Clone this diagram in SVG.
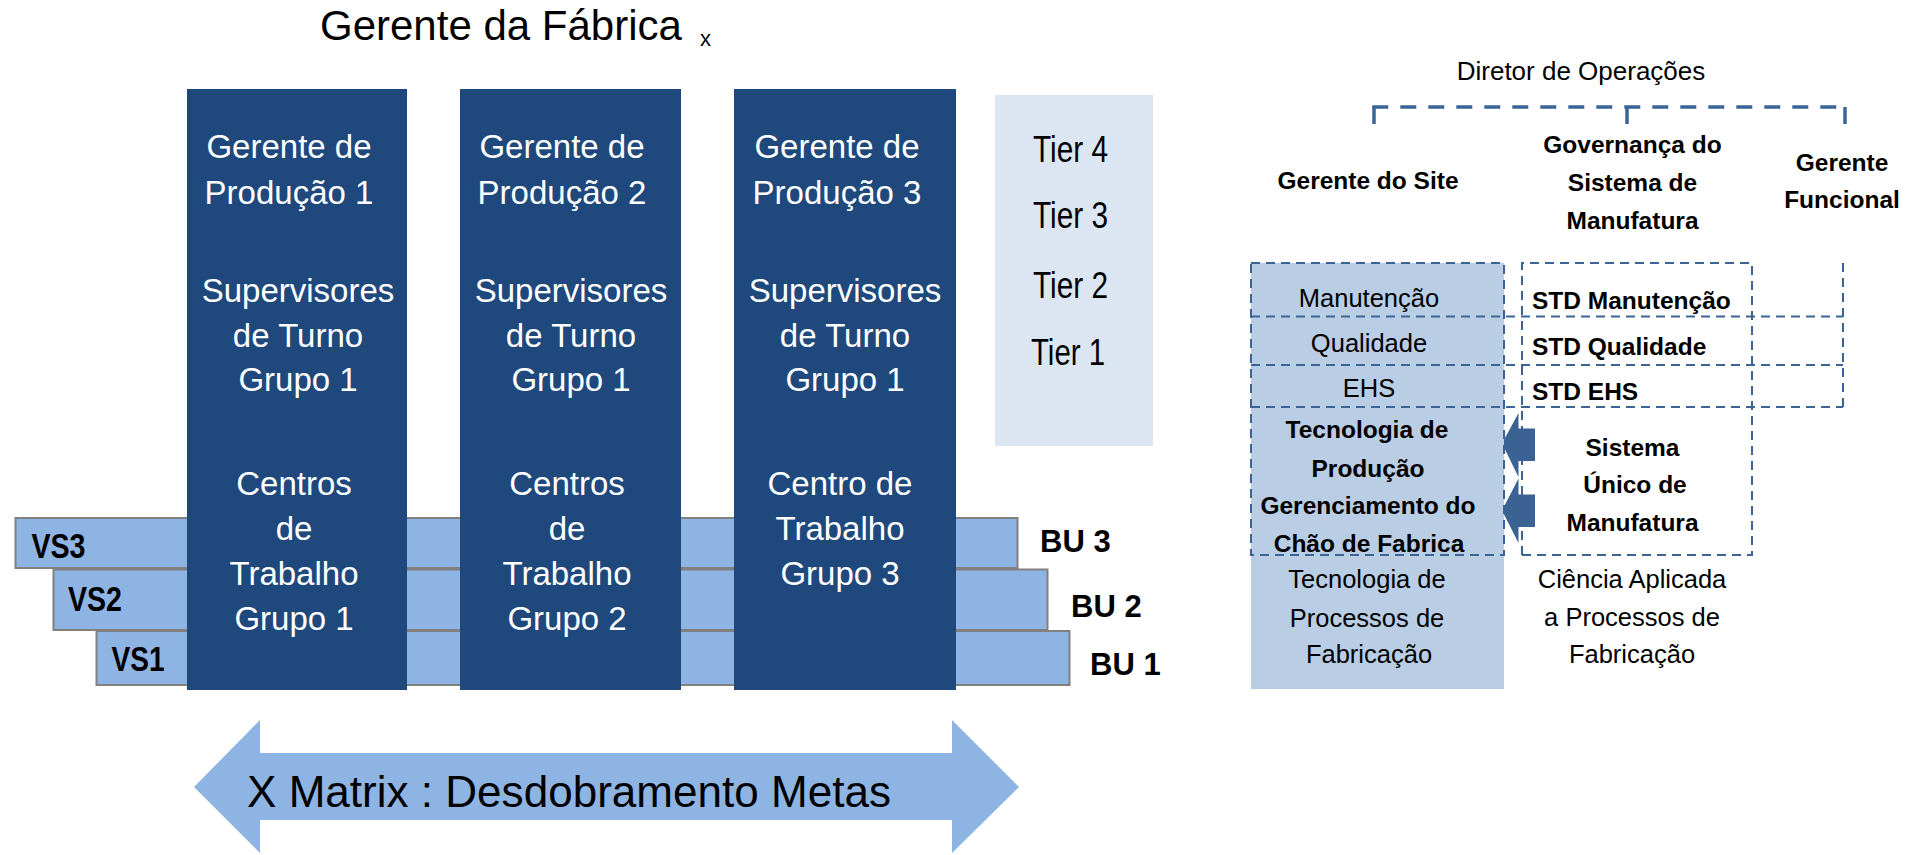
<svg xmlns="http://www.w3.org/2000/svg" width="1908" height="855" viewBox="0 0 1908 855">
<style>
text{font-family:"Liberation Sans",Arial,sans-serif;}
.col{fill:#1F497D;}
.wt{fill:#FFFFFF;font-size:33px;text-anchor:middle;}
.band{fill:#8EB4E3;stroke:#808080;stroke-width:2;}
.vs{font-size:35px;font-weight:bold;fill:#000;}
.bu{font-size:31px;font-weight:bold;fill:#000;}
.tier{font-size:36px;fill:#000;}
.hb{font-size:24.5px;font-weight:bold;fill:#000;text-anchor:middle;}
.rg{font-size:25.5px;fill:#000;text-anchor:middle;}
.std{font-size:24.5px;font-weight:bold;fill:#000;}
.dash{fill:none;stroke:#3B6496;stroke-width:2;stroke-dasharray:9 6;}
.brk{fill:none;stroke:#3B6496;stroke-width:3.5;}
.blk{fill:#3A6394;}
</style>

<g id="title">
<text x="320" y="40" font-size="42" fill="#000">Gerente da Fábrica</text>
<text x="700" y="46" font-size="22" fill="#000">x</text>
</g>

<g id="bands">
<g id="vs3"><rect class="band" x="15.5" y="518" width="1002" height="50"/><text class="vs" x="31.5" y="558" textLength="54" lengthAdjust="spacingAndGlyphs">VS3</text></g>
<g id="vs2"><rect class="band" x="53.5" y="569.5" width="994" height="60.5"/><text class="vs" x="68" y="611" textLength="54" lengthAdjust="spacingAndGlyphs">VS2</text></g>
<g id="vs1"><rect class="band" x="96.5" y="631" width="973" height="54"/><text class="vs" x="111.5" y="671" textLength="53" lengthAdjust="spacingAndGlyphs">VS1</text></g>
</g>

<g id="bu-labels">
<text class="bu" x="1040" y="552">BU 3</text>
<text class="bu" x="1071" y="617">BU 2</text>
<text class="bu" x="1090" y="675">BU 1</text>
</g>

<g id="col1">
<rect class="col" x="187" y="89" width="220" height="601"/>
<text class="wt" x="289" y="158">Gerente de</text>
<text class="wt" x="289" y="204">Produção 1</text>
<text class="wt" x="298" y="302">Supervisores</text>
<text class="wt" x="298" y="347">de Turno</text>
<text class="wt" x="298" y="391">Grupo 1</text>
<text class="wt" x="294" y="495">Centros</text>
<text class="wt" x="294" y="540">de</text>
<text class="wt" x="294" y="585">Trabalho</text>
<text class="wt" x="294" y="630">Grupo 1</text>
</g>

<g id="col2">
<rect class="col" x="460" y="89" width="221" height="601"/>
<text class="wt" x="562" y="158">Gerente de</text>
<text class="wt" x="562" y="204">Produção 2</text>
<text class="wt" x="571" y="302">Supervisores</text>
<text class="wt" x="571" y="347">de Turno</text>
<text class="wt" x="571" y="391">Grupo 1</text>
<text class="wt" x="567" y="495">Centros</text>
<text class="wt" x="567" y="540">de</text>
<text class="wt" x="567" y="585">Trabalho</text>
<text class="wt" x="567" y="630">Grupo 2</text>
</g>

<g id="col3">
<rect class="col" x="734" y="89" width="222" height="601"/>
<text class="wt" x="837" y="158">Gerente de</text>
<text class="wt" x="837" y="204">Produção 3</text>
<text class="wt" x="845" y="302">Supervisores</text>
<text class="wt" x="845" y="347">de Turno</text>
<text class="wt" x="845" y="391">Grupo 1</text>
<text class="wt" x="840" y="495">Centro de</text>
<text class="wt" x="840" y="540">Trabalho</text>
<text class="wt" x="840" y="585">Grupo 3</text>
</g>

<g id="tiers">
<rect x="995" y="95" width="158" height="351" fill="#DCE6F2"/>
<text class="tier" x="1033" y="162" textLength="75" lengthAdjust="spacingAndGlyphs">Tier 4</text>
<text class="tier" x="1033" y="228" textLength="75" lengthAdjust="spacingAndGlyphs">Tier 3</text>
<text class="tier" x="1033" y="298" textLength="75" lengthAdjust="spacingAndGlyphs">Tier 2</text>
<text class="tier" x="1031" y="365" textLength="74" lengthAdjust="spacingAndGlyphs">Tier 1</text>
</g>

<g id="xmatrix">
<path d="M194,787 L260,720 L260,753 L952,753 L952,720 L1019,787 L952,853 L952,820 L260,820 L260,853 Z" fill="#8EB4E3"/>
<text x="247" y="807" font-size="44" fill="#000" textLength="644" lengthAdjust="spacingAndGlyphs">X Matrix : Desdobramento Metas</text>
</g>

<g id="diretor">
<text x="1581" y="80" font-size="26" fill="#000" text-anchor="middle">Diretor de Operações</text>
</g>

<g id="connectors">
<path class="brk" d="M1374,124 V107"/>
<path class="brk" d="M1627,107 V124"/>
<path class="brk" d="M1845,107 V124"/>
<path class="brk" d="M1372.3,107 H1846.7" stroke-dasharray="16 12"/>
<path class="blk" d="M1502,443.5 L1518.5,413 L1518.5,428.5 L1535,428.5 L1535,461 L1518.5,461 L1518.5,477 Z"/>
<path class="blk" d="M1502,510.5 L1518.5,478.5 L1518.5,494.5 L1535,494.5 L1535,527 L1518.5,527 L1518.5,543 Z"/>
</g>

<g id="site">
<rect x="1251" y="263" width="253" height="426" fill="#B9CDE5"/>
<text class="hb" x="1368" y="189">Gerente do Site</text>
<text class="rg" x="1369" y="307">Manutenção</text>
<text class="rg" x="1369" y="352">Qualidade</text>
<text class="rg" x="1369" y="397">EHS</text>
<text class="hb" x="1367" y="438">Tecnologia de</text>
<text class="hb" x="1368" y="477">Produção</text>
<text class="hb" x="1368" y="514">Gerenciamento do</text>
<text class="hb" x="1369" y="552">Chão de Fabrica</text>
<text class="rg" x="1367" y="588">Tecnologia de</text>
<text class="rg" x="1367" y="627">Processos de</text>
<text class="rg" x="1369" y="663">Fabricação</text>
</g>

<g id="governanca">
<text class="hb" x="1632.5" y="153">Governança do</text>
<text class="hb" x="1632.5" y="191">Sistema de</text>
<text class="hb" x="1632.5" y="229">Manufatura</text>
<text class="std" x="1532" y="309">STD Manutenção</text>
<text class="std" x="1532" y="355">STD Qualidade</text>
<text class="std" x="1532" y="400">STD EHS</text>
<text class="hb" x="1632.5" y="456">Sistema</text>
<text class="hb" x="1635" y="493">Único de</text>
<text class="hb" x="1632.5" y="531">Manufatura</text>
<text class="rg" x="1632" y="588">Ciência Aplicada</text>
<text class="rg" x="1632" y="626">a Processos de</text>
<text class="rg" x="1632" y="663">Fabricação</text>
</g>

<g id="funcional">
<text class="hb" x="1842" y="171">Gerente</text>
<text class="hb" x="1842" y="208">Funcional</text>
</g>

<g id="grid">
<rect class="dash" x="1251" y="263" width="253" height="292"/>
<path class="dash" d="M1522,555 V263 H1752 V555 H1522"/>
<path class="dash" d="M1843,263 V407"/>
<path class="dash" d="M1251,316.5 H1843"/>
<path class="dash" d="M1251,365 H1843"/>
<path class="dash" d="M1251,407 H1843"/>
</g>
</svg>
